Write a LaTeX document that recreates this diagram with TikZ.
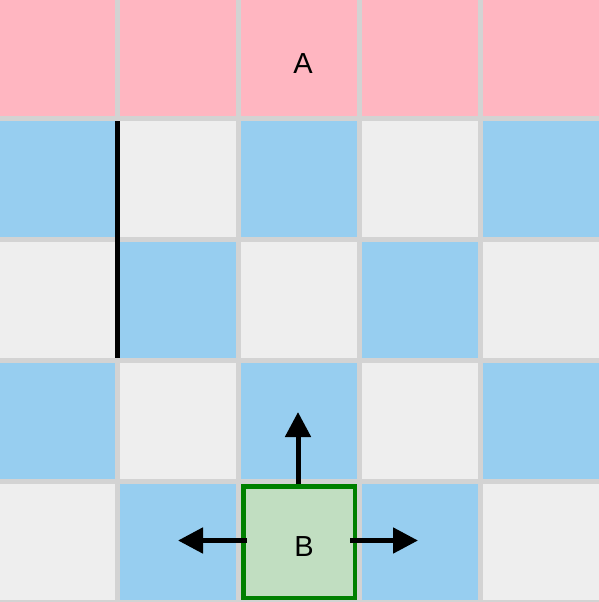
\documentclass[tikz,border=0pt]{standalone}
\usepackage{fontspec}
\setmainfont{Liberation Sans}
\usetikzlibrary{arrows.meta}
\definecolor{gapgray}{RGB}{211,211,211}
\definecolor{cellpink}{RGB}{255,182,193}
\definecolor{cellblue}{RGB}{151,206,240}
\definecolor{cellgray}{RGB}{238,238,238}
\definecolor{boxfill}{RGB}{193,222,193}
\definecolor{boxline}{RGB}{0,128,0}
\tikzset{
  lbl/.style={font=\fontsize{29}{29}\selectfont, inner sep=0pt},
  movearrow/.style={line width=5pt, -{Triangle[width=25pt,length=25pt]}},
  wall/.style={line width=5pt, draw=black}
}
\begin{document}
\begin{tikzpicture}[x=1pt,y=-1pt]
\useasboundingbox (0,0) rectangle (599,602);
\fill[gapgray] (0,0) rectangle (599,602);
\def\colx{{-1,120,241,362,483}}
\def\rowy{{0,121,242,363,484}}
% row 0 pink
\foreach \c in {0,...,4} {
  \pgfmathsetmacro{\xx}{\colx[\c]}
  \fill[cellpink] (\xx,0) rectangle ++(116,116);
}
% rows 1-4 checker
\foreach \r in {1,...,4} {
  \foreach \c in {0,...,4} {
    \pgfmathsetmacro{\xx}{\colx[\c]}
    \pgfmathsetmacro{\yy}{\rowy[\r]}
    \pgfmathtruncatemacro{\parity}{mod(\r+\c,2)}
    \ifnum\parity=1
      \fill[cellblue] (\xx,\yy) rectangle ++(116,116);
    \else
      \fill[cellgray] (\xx,\yy) rectangle ++(116,116);
    \fi
  }
}
% wall
\coordinate (w1) at (117.5,121);
\coordinate (w2) at (117.5,358);
\draw[wall] (w1) -- (w2);
% label A
\node[lbl] (A) at (303,64) {A};
% box B
\node[draw=boxline, fill=boxfill, line width=4.5pt, minimum width=111.5pt, minimum height=111.5pt, inner sep=0pt, outer sep=0pt, anchor=north west] (Bbox) at (243.25,486.25) {};
\node[lbl] (B) at (304,547) {B};
% arrows
\coordinate (upS) at (298,484);
\coordinate (upE) at (298,412);
\coordinate (lS) at (247,540.5);
\coordinate (lE) at (178,540.5);
\coordinate (rS) at (350,540.5);
\coordinate (rE) at (418,540.5);
\draw[movearrow] (upS) -- (upE);
\draw[movearrow] (lS) -- (lE);
\draw[movearrow] (rS) -- (rE);
\end{tikzpicture}
\end{document}
